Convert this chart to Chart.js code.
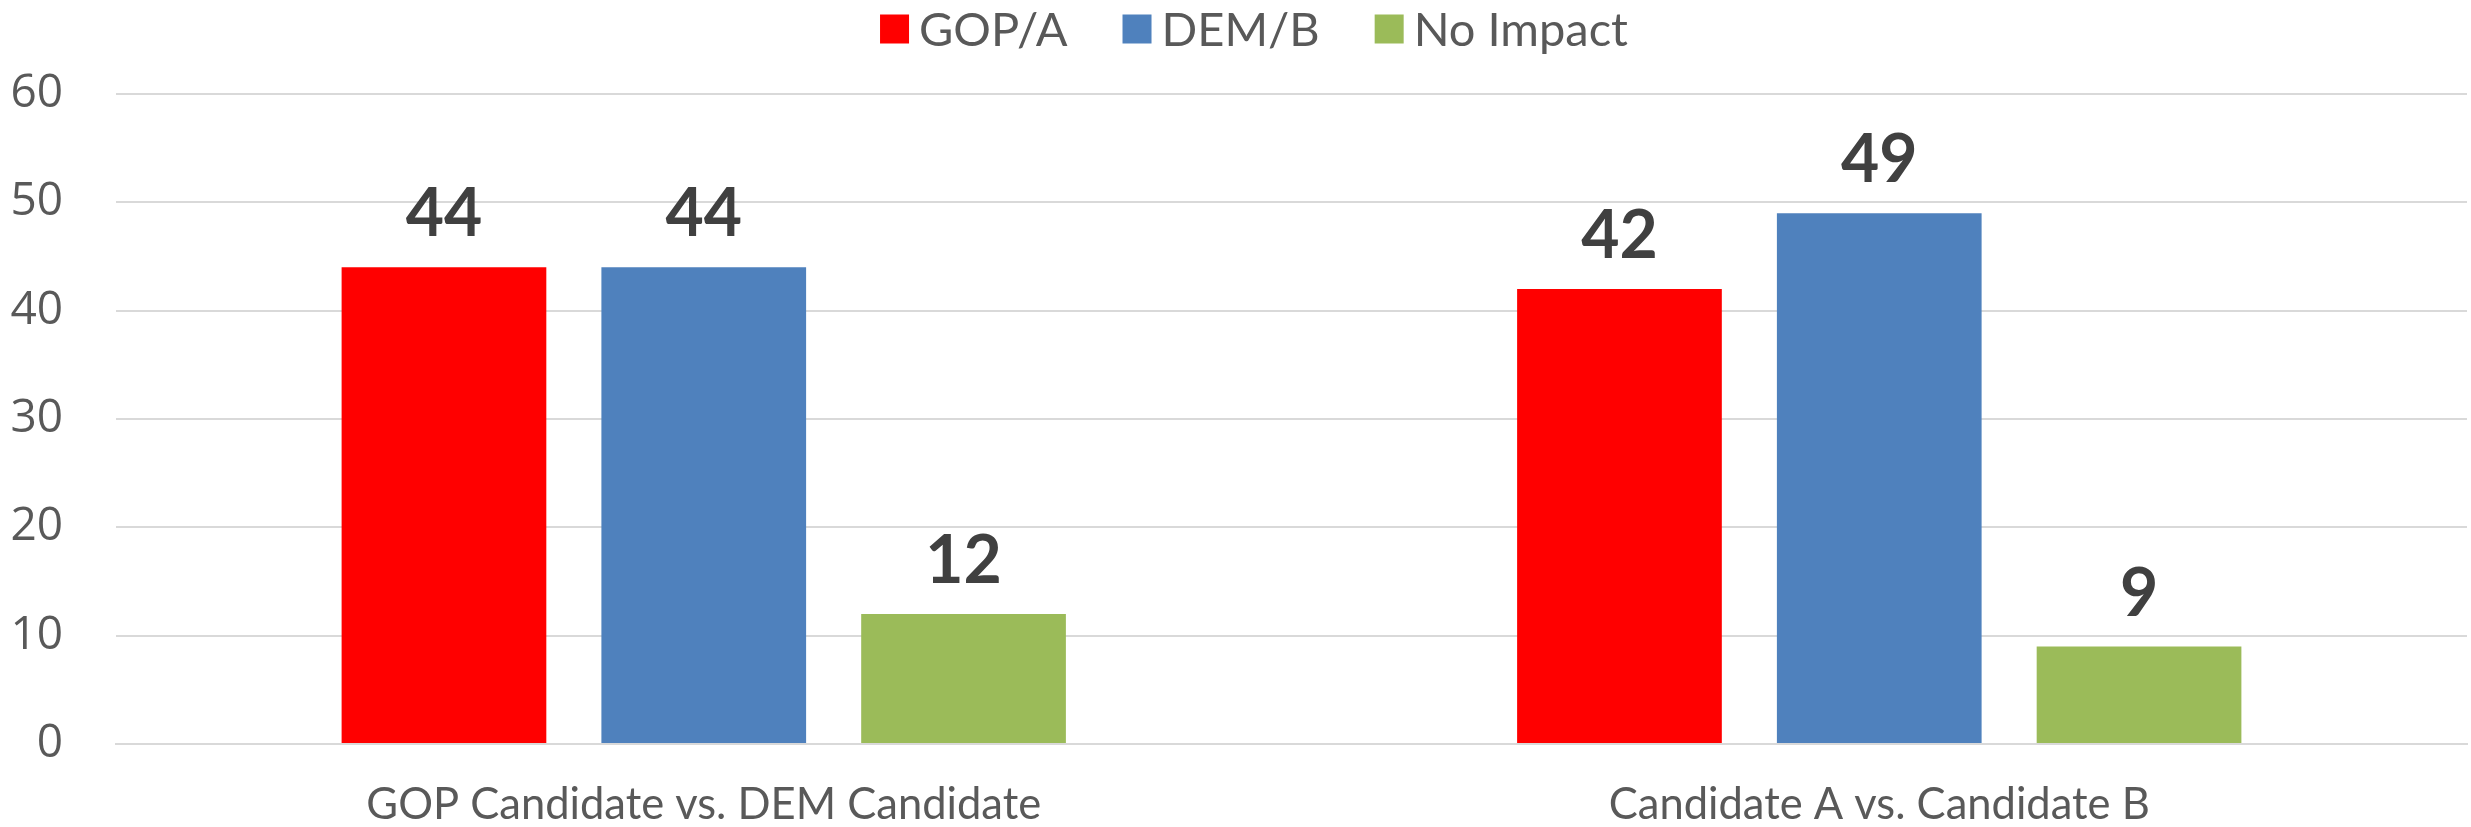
<!DOCTYPE html>
<html>
<head>
<meta charset="utf-8">
<script src="https://cdn.jsdelivr.net/npm/chart.js@4/dist/chart.umd.min.js"></script>
<style>
    html, body { margin: 0; padding: 0; background: #fff; }
</style>
</head>
<body>
<canvas id="pollChart" width="2471" height="827"></canvas>
<script>
    "use strict";

    var categories = ["GOP Candidate vs. DEM Candidate", "Candidate A vs. Candidate B"];
    var seriesNames = ["GOP/A", "DEM/B", "No Impact"];
    var gopA = [44, 42];
    var demB = [44, 49];
    var noImpact = [12, 9];
    var yTicks = [0, 10, 20, 30, 40, 50, 60];

    var colors = ["#FF0000", "#4F81BD", "#9BBB59"];

    // value above each bar
    var barValues = {
        id: 'barValues',
        afterDatasetsDraw: function (chart) {
            var ctx = chart.ctx;
            ctx.save();
            ctx.font = 'bold 66px Lato';
            ctx.fillStyle = '#404040';
            ctx.textAlign = 'center';
            ctx.textBaseline = 'alphabetic';
            chart.data.datasets.forEach(function (ds, i) {
                chart.getDatasetMeta(i).data.forEach(function (bar, j) {
                    ctx.fillText(ds.data[j], bar.x, bar.y - 31);
                });
            });
            ctx.restore();
        }
    };

    // legend row across the top, square swatch then name
    var topLegend = {
        id: 'topLegend',
        afterDraw: function (chart) {
            var ctx = chart.ctx;
            var items = chart.data.datasets;
            var box = 29, gap = 10, spacing = 55, total = 0;
            ctx.save();
            ctx.font = '47px Lato';
            items.forEach(function (ds, i) {
                total += box + gap + ctx.measureText(ds.label).width + (i ? spacing : 0);
            });
            var x = 1254 - total / 2, y = 29;
            ctx.textBaseline = 'middle';
            items.forEach(function (ds) {
                ctx.fillStyle = ds.backgroundColor;
                ctx.fillRect(x, y - box / 2, box, box);
                x += box + gap;
                ctx.fillStyle = '#595959';
                ctx.fillText(ds.label, x, y + 2);
                x += ctx.measureText(ds.label).width + spacing;
            });
            ctx.restore();
        }
    };

    var series = [gopA, demB, noImpact];
    var datasets = [];
    for (var i = 0; i < series.length; i++) {
        datasets.push({
            label: seriesNames[i],
            data: series[i],
            backgroundColor: colors[i],
            borderWidth: 0,
            categoryPercentage: 0.663,
            barPercentage: 0.788
        });
    }

    var ctx = document.getElementById('pollChart').getContext('2d');
    new Chart(ctx, {
        type: 'bar',
        data: {labels: categories, datasets: datasets},
        plugins: [barValues, topLegend],
        options: {
            responsive: false,
            animation: false,
            layout: {padding: {top: 94, right: 4, left: 0, bottom: 0}},
            plugins: {
                legend: {display: false},
                tooltip: {enabled: false}
            },
            scales: {
                x: {
                    grid: {display: false, drawTicks: false},
                    border: {display: true, color: '#D9D9D9', width: 2},
                    ticks: {
                        padding: 35,
                        color: '#595959',
                        font: {family: 'Lato', size: 43.5}
                    },
                    afterFit: function (scale) { scale.height = 83; }
                },
                y: {
                    min: 0,
                    max: 60,
                    afterBuildTicks: function (scale) {
                        scale.ticks = yTicks.map(function (v) { return {value: v}; });
                    },
                    grid: {color: '#D9D9D9', lineWidth: 2, drawTicks: false},
                    border: {display: false},
                    ticks: {
                        padding: 53,
                        color: '#595959',
                        font: {family: 'Open Sans', size: 46}
                    },
                    afterFit: function (scale) { scale.width = 116; }
                }
            }
        }
    });
</script>
</body>
</html>
